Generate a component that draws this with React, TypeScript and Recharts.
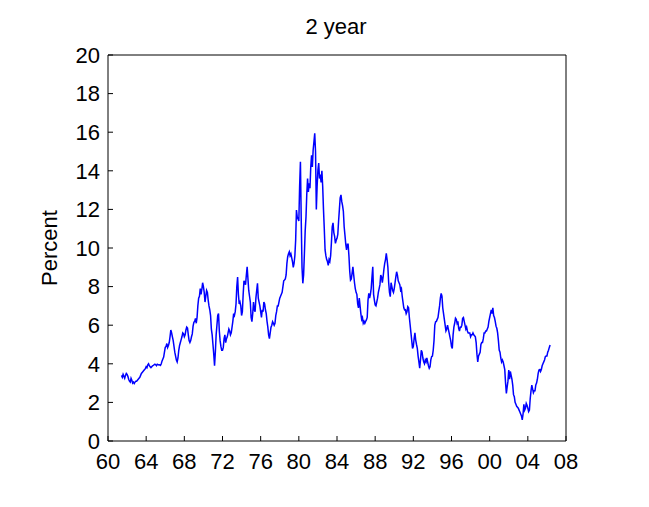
import { LineChart, Line, XAxis, YAxis } from 'recharts';

// monthly 2-year yield, starting June 1961
const rates1960s = [
  3.40, 3.30, 3.45, 3.35, 3.25, 3.40, 3.50,
  3.45, 3.35, 3.20, 3.10, 3.05, 3.25, 3.15, 3.00, 3.05, 2.98, 3.05, 3.10,
  3.10, 3.15, 3.20, 3.25, 3.30, 3.40, 3.50, 3.55, 3.60, 3.65, 3.70, 3.75,
  3.85, 3.80, 3.95, 4.00, 3.90, 3.85, 3.80, 3.85, 3.90, 3.92, 3.95, 3.98,
  3.95, 3.90, 3.98, 3.96, 3.94, 3.95, 3.92, 4.00, 4.15, 4.25, 4.35, 4.60,
  4.85, 4.90, 5.05, 4.85, 4.95, 5.10, 5.40, 5.75, 5.60, 5.40, 5.20, 4.90,
  4.60, 4.40, 4.20, 4.10, 4.30, 4.70, 4.95, 5.10, 5.25, 5.40, 5.60, 5.55,
  5.40, 5.50, 5.75, 5.90, 5.85, 5.50, 5.20, 5.10, 5.20, 5.40, 5.55, 5.95,
  6.15, 6.20, 6.35, 6.10, 6.40, 7.00, 7.40, 7.50, 7.90, 7.60, 7.85, 8.20,
];
const rates1970s = [
  8.00, 7.70, 7.20, 7.50, 7.80, 7.70, 7.30, 7.00, 6.80, 6.50, 5.80, 5.50,
  5.00, 4.50, 3.90, 4.60, 5.50, 6.00, 6.50, 6.60, 5.70, 5.20, 4.90, 4.70,
  4.70, 4.85, 5.30, 5.50, 5.10, 5.30, 5.40, 5.60, 5.80, 5.70, 5.50, 5.60,
  5.90, 6.20, 6.60, 6.50, 6.70, 7.10, 8.00, 8.50, 7.60, 7.10, 7.20, 7.00,
  6.50, 6.70, 7.60, 8.30, 8.20, 8.10, 8.60, 9.03, 8.40, 7.80, 7.50, 7.20,
  6.40, 6.18, 6.60, 7.20, 6.80, 6.70, 7.40, 7.80, 8.17, 7.40, 7.20, 7.00,
  6.70, 6.40, 6.80, 6.70, 7.20, 7.10, 6.80, 6.60, 6.20, 5.90, 5.50, 5.30,
  5.60, 5.90, 6.00, 6.18, 6.10, 6.00, 6.10, 6.50, 6.70, 7.00, 7.00, 7.20,
  7.40, 7.50, 7.60, 7.70, 8.00, 8.30, 8.34, 8.40, 8.60, 9.20, 9.55, 9.70,
  9.80, 9.60, 9.70, 9.50, 9.30, 9.00, 9.20, 9.60, 10.40, 11.97, 11.60, 11.50,
];
const rates1980s = [
  11.40, 13.20, 14.47, 11.50, 9.00, 8.17, 8.60, 9.70, 10.90, 11.60, 12.80, 13.60,
  12.90, 13.35, 13.10, 14.20, 14.80, 14.20, 15.08, 15.50, 15.94, 15.00, 12.00, 13.20,
  14.04, 14.40, 13.60, 13.80, 13.40, 14.00, 13.20, 12.00, 11.00, 9.90, 9.60, 9.40,
  9.30, 9.10, 9.40, 9.30, 9.60, 10.30, 11.10, 11.30, 10.80, 10.60, 10.24, 10.40,
  10.50, 10.70, 11.40, 12.00, 12.60, 12.75, 12.40, 12.20, 11.90, 11.10, 10.67, 10.20,
  9.90, 10.20, 10.20, 9.60, 8.80, 8.34, 8.40, 8.70, 9.03, 8.60, 8.20, 7.90,
  7.70, 7.60, 7.10, 6.90, 7.40, 7.00, 6.60, 6.30, 6.40, 6.10, 6.20, 6.10,
  6.20, 6.27, 6.40, 7.30, 7.65, 7.40, 7.60, 7.90, 8.50, 9.03, 7.60, 7.30,
  7.05, 7.00, 7.20, 7.40, 7.70, 7.90, 8.10, 8.60, 8.50, 8.20, 8.50, 8.90,
  9.20, 9.40, 9.72, 9.40, 9.00, 8.20, 7.70, 7.48, 8.20, 8.00, 7.80, 7.70,
];
const rates1990s = [
  7.90, 8.20, 8.50, 8.77, 8.60, 8.30, 8.20, 8.10, 7.82, 7.90, 7.50, 7.20,
  6.90, 6.79, 6.80, 6.60, 6.70, 6.96, 6.90, 6.40, 6.00, 5.60, 5.20, 4.80,
  4.90, 5.30, 5.60, 5.23, 5.00, 4.80, 4.40, 4.10, 3.77, 4.20, 4.70, 4.60,
  4.30, 4.10, 4.00, 4.20, 4.10, 4.30, 4.10, 3.90, 3.77, 3.85, 4.20, 4.37,
  4.40, 4.70, 5.20, 6.00, 6.18, 6.20, 6.30, 6.40, 6.70, 7.00, 7.40, 7.65,
  7.50, 6.90, 6.60, 6.30, 6.00, 5.70, 5.80, 6.00, 5.80, 5.60, 5.40, 5.20,
  4.90, 4.80, 5.50, 5.90, 6.10, 6.36, 6.30, 6.10, 6.20, 5.84, 5.70, 5.90,
  5.90, 6.00, 6.36, 6.40, 6.20, 6.00, 5.80, 5.90, 5.70, 5.60, 5.60, 5.60,
  5.40, 5.50, 5.50, 5.60, 5.50, 5.45, 5.40, 5.10, 4.50, 4.10, 4.40, 4.50,
  4.60, 5.00, 5.10, 5.10, 5.30, 5.60, 5.60, 5.70, 5.70, 5.80, 5.90, 6.20,
];
const rates2000s = [
  6.40, 6.60, 6.79, 6.60, 6.90, 6.50, 6.40, 6.20, 5.95, 5.84, 5.60, 5.20,
  4.71, 4.60, 4.30, 4.10, 4.20, 4.10, 3.90, 3.70, 3.00, 2.47, 2.80, 3.10,
  3.68, 3.20, 3.60, 3.40, 3.20, 2.90, 2.40, 2.30, 2.00, 1.90, 1.80, 1.75,
  1.70, 1.60, 1.50, 1.40, 1.30, 1.09, 1.40, 1.90, 1.60, 1.70, 1.95, 1.85,
  1.70, 1.52, 1.60, 2.20, 2.60, 2.90, 2.70, 2.50, 2.60, 2.60, 2.90, 3.00,
  3.20, 3.50, 3.68, 3.70, 3.60, 3.70, 3.90, 4.00, 4.10, 4.20, 4.37, 4.40,
  4.40, 4.60, 4.70, 4.85, 4.97,
];

const yearTicks = [1960, 1964, 1968, 1972, 1976, 1980, 1984, 1988, 1992, 1996, 2000, 2004, 2008];
const percentTicks = [0, 2, 4, 6, 8, 10, 12, 14, 16, 18, 20];

const rates = [...rates1960s, ...rates1970s, ...rates1980s, ...rates1990s, ...rates2000s];
const firstMonth = 1961 + 5 / 12;
const data = rates.map((v, i) => ({ t: firstMonth + i / 12, v }));

const font = { fontFamily: '"Liberation Sans", Arial, sans-serif', fontSize: 22, fill: '#000' };
const yy = (v: number) => String(v % 100).padStart(2, '0');

export default function App() {
  return (
    <div style={{ position: 'relative', width: 641, height: 499, overflow: 'hidden', background: '#fff' }}>
      <LineChart width={641} height={499} data={data} margin={{ top: 46, right: 82, bottom: 36, left: 0 }}>
        <XAxis dataKey="t" type="number" domain={[1960, 2008]} ticks={yearTicks} interval={0}
          tickFormatter={yy} tickSize={-5} tickMargin={17} height={30} allowDataOverflow
          tick={font} axisLine={{ stroke: '#000' }} tickLine={{ stroke: '#000' }} />
        <XAxis xAxisId="top" orientation="top" dataKey="t" type="number" domain={[1960, 2008]}
          ticks={yearTicks} interval={0} tickSize={-5} height={1} tick={false} allowDataOverflow
          axisLine={{ stroke: '#000' }} tickLine={{ stroke: '#000' }} />
        <YAxis type="number" domain={[0, 20]} ticks={percentTicks} interval={0} tickSize={-5} tickMargin={13}
          width={100} tick={font} axisLine={{ stroke: '#000' }} tickLine={{ stroke: '#000' }} allowDataOverflow
          label={{ value: 'Percent', angle: -90, position: 'insideLeft', offset: 41, style: { ...font, textAnchor: 'middle' } }} />
        <YAxis yAxisId="right" orientation="right" type="number" domain={[0, 20]} ticks={percentTicks} interval={0}
          tickSize={-5} width={1} tick={false} allowDataOverflow
          axisLine={{ stroke: '#000' }} tickLine={{ stroke: '#000' }} />
        <Line xAxisId="top" yAxisId="right" dataKey="v" type="linear" stroke="none" dot={false}
          activeDot={false} isAnimationActive={false} />
        <Line dataKey="v" type="linear" stroke="#0000ff" strokeWidth={1.5} dot={false} isAnimationActive={false} />
      </LineChart>
      <svg width={641} height={499} style={{ position: 'absolute', left: 0, top: 0, pointerEvents: 'none' }}>
        <text x={328} y={26} textAnchor="middle" style={font}>2 year</text>
        <text x={652} y={239} textAnchor="middle" transform="rotate(-90 652 239)" style={font}>Percent</text>
      </svg>
    </div>
  );
}
